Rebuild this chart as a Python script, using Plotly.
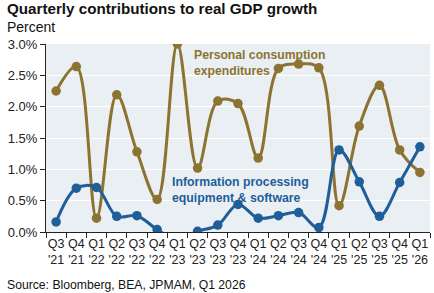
import plotly.graph_objects as go

quarters = ["Q3<br>'21", "Q4<br>'21", "Q1<br>'22", "Q2<br>'22", "Q3<br>'22", "Q4<br>'22",
            "Q1<br>'23", "Q2<br>'23", "Q3<br>'23", "Q4<br>'23", "Q1<br>'24", "Q2<br>'24",
            "Q3<br>'24", "Q4<br>'24", "Q1<br>'25", "Q2<br>'25", "Q3<br>'25", "Q4<br>'25", "Q1<br>'26"]
pce = [2.25, 2.64, 0.22, 2.19, 1.28, 0.52, 3.00, 1.02, 2.09, 2.05, 1.18, 2.61,
       2.68, 2.62, 0.42, 1.69, 2.34, 1.31, 0.95]
info = [0.16, 0.70, 0.71, 0.25, 0.26, 0.04, -0.12, 0.01, 0.11, 0.44, 0.22, 0.26,
        0.31, 0.07, 1.31, 0.80, 0.25, 0.79, 1.36]
y_ticks = [0, 0.5, 1.0, 1.5, 2.0, 2.5, 3.0]
y_labels = ["0.0%", "0.5%", "1.0%", "1.5%", "2.0%", "2.5%", "3.0%"]

GOLD = "#8c7331"
BLUE = "#1f5e98"
FONT = "Liberation Sans, Arial, sans-serif"

fig = go.Figure()
fig.add_trace(go.Scatter(x=quarters, y=pce, mode="lines+markers",
                         line=dict(color=GOLD, width=3, shape="spline", smoothing=1),
                         marker=dict(size=9.5, color=GOLD), cliponaxis=True))
fig.add_trace(go.Scatter(x=quarters, y=info, mode="lines+markers",
                         line=dict(color=BLUE, width=3, shape="spline", smoothing=1),
                         marker=dict(size=9.5, color=BLUE), cliponaxis=True))

fig.update_layout(
    width=434, height=293,
    margin=dict(l=46, r=4, t=44, b=61),
    paper_bgcolor="white", plot_bgcolor="#e9eff3",
    showlegend=False,
    font=dict(family=FONT, size=13, color="#222222"),
)
fig.update_xaxes(type="category", range=[-0.5, 18.5], tickson="boundaries",
                 ticks="outside", ticklen=5, tickcolor="#222222", tickangle=0,
                 showline=True, linecolor="#222222", linewidth=1.2,
                 showgrid=False, tickfont=dict(size=12.5, color="#222222"))
fig.update_yaxes(range=[0, 3.0], tickvals=y_ticks, ticktext=y_labels,
                 ticks="outside", ticklen=5, tickcolor="#222222",
                 showline=True, linecolor="#222222", linewidth=1.2,
                 gridcolor="white", gridwidth=1.2, zeroline=False,
                 tickfont=dict(size=13, color="#222222"))

fig.add_annotation(text="<b>Quarterly contributions to real GDP growth</b>",
                   xref="paper", yref="paper", x=-41/384, y=1 + 46/187,
                   xanchor="left", yanchor="top", showarrow=False,
                   font=dict(size=15.2, color="#111111", family=FONT))
fig.add_annotation(text="Percent", xref="paper", yref="paper",
                   x=-41/384, y=1 + 27/187, xanchor="left", yanchor="top", showarrow=False,
                   font=dict(size=14, color="#111111", family=FONT))
fig.add_annotation(text="Source: Bloomberg, BEA, JPMAM, Q1 2026", xref="paper", yref="paper",
                   x=-41/384, y=-44/187, xanchor="left", yanchor="top", showarrow=False,
                   font=dict(size=12.2, color="#111111", family=FONT))
fig.add_annotation(text="<b>Personal consumption<br>expenditures</b>",
                   xref="paper", yref="paper", x=(192-46)/384, y=(232-47)/187,
                   xanchor="left", yanchor="top", align="left", showarrow=False,
                   font=dict(size=12.2, color=GOLD, family=FONT))
fig.add_annotation(text="<b>Information processing<br>equipment & software</b>",
                   xref="paper", yref="paper", x=(170-46)/384, y=(232-173)/187,
                   xanchor="left", yanchor="top", align="left", showarrow=False,
                   font=dict(size=12.3, color=BLUE, family=FONT))

fig.write_html("out.html")
